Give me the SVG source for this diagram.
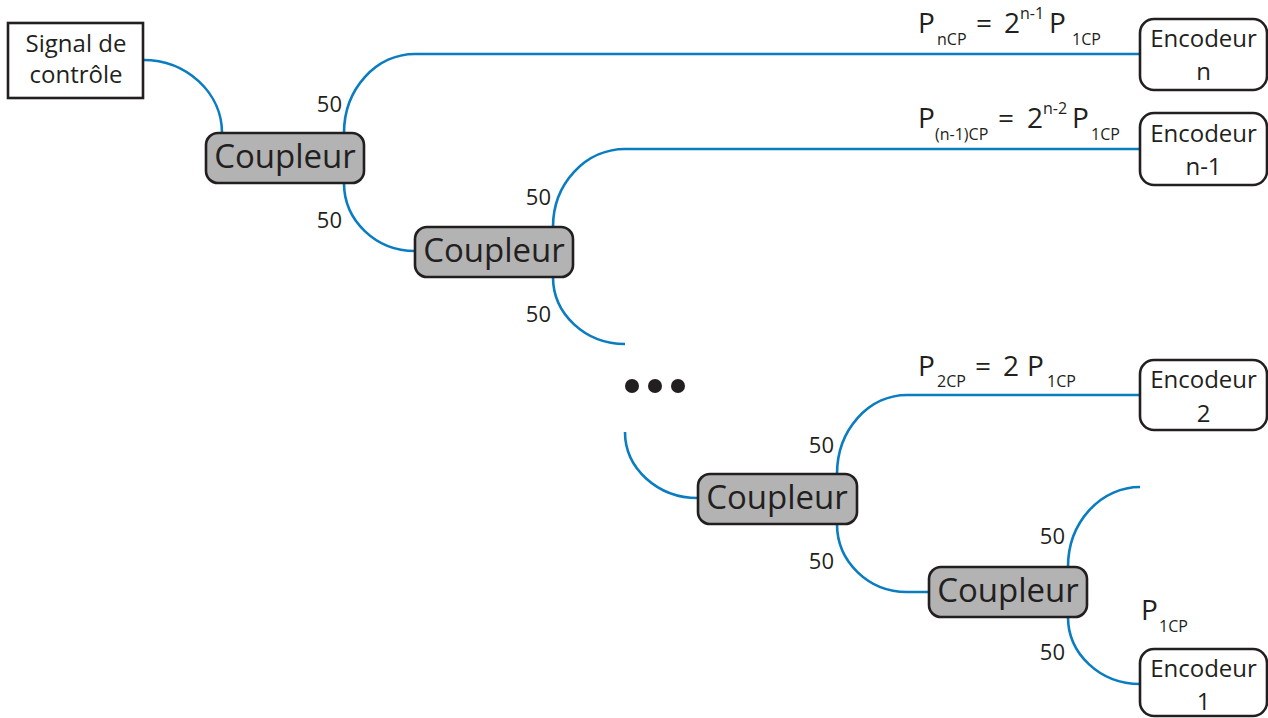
<svg xmlns="http://www.w3.org/2000/svg" width="1268" height="718" viewBox="0 0 1268 718">
<style>
text{font-family:"Open Sans","Liberation Sans",sans-serif;fill:#231f20}
.wire{fill:none;stroke:#0a7cc2;stroke-width:2.6}
.cp rect{fill:#b3b3b3;stroke:#231f20;stroke-width:2.6}
.cp text{font-size:33px;text-anchor:middle}
.enc rect{fill:#fff;stroke:#231f20;stroke-width:2.6}
.enc text{font-size:24px;text-anchor:middle}
.lbl{font-size:22px;text-anchor:end}
.P{font-size:28px}
.sub{font-size:16px}
</style>
<rect width="1268" height="718" fill="#fff"/>
<g id="connectors">
<path class="wire" d="M143,60 A79,73 0 0 1 222,133"/>
<path class="wire" d="M344,133 A71,79 0 0 1 415,54 L1140,54"/>
<path class="wire" d="M344,183 A71,68 0 0 0 415,251"/>
<path class="wire" d="M553,227 A72,78 0 0 1 625,149 L1140,149"/>
<path class="wire" d="M553,277 A72,67 0 0 0 625,344"/>
<path class="wire" d="M625,432 A73,66 0 0 0 698,498"/>
<path class="wire" d="M837,474 A70,79 0 0 1 907,395 L1140,395"/>
<path class="wire" d="M837,524 A70,68 0 0 0 907,592 L929,592"/>
<path class="wire" d="M1068,567 A72,80 0 0 1 1140,487"/>
<path class="wire" d="M1068,617 A72,67 0 0 0 1140,684"/>
</g>
<g id="signal">
<rect x="8" y="23" width="135" height="75" fill="#fff" stroke="#231f20" stroke-width="2.6"/>
<text x="76" y="52" font-size="24" text-anchor="middle">Signal de</text>
<text x="76" y="83" font-size="24" text-anchor="middle">contrôle</text>
</g>
<g id="coupleur1" class="cp"><rect x="206" y="133" width="158" height="50" rx="12"/><text x="285" y="168">Coupleur</text></g>
<g id="coupleur2" class="cp"><rect x="415" y="227" width="158" height="50" rx="12"/><text x="494" y="262">Coupleur</text></g>
<g id="coupleur3" class="cp"><rect x="698" y="474" width="159" height="50" rx="12"/><text x="777" y="509">Coupleur</text></g>
<g id="coupleur4" class="cp"><rect x="929" y="567" width="158" height="50" rx="12"/><text x="1008" y="602">Coupleur</text></g>
<g id="encodeur-n" class="enc"><rect x="1140" y="19" width="127" height="71" rx="14"/><text x="1203.5" y="47">Encodeur</text><text x="1203.5" y="80">n</text></g>
<g id="encodeur-n1" class="enc"><rect x="1140" y="113" width="127" height="72" rx="14"/><text x="1203.5" y="142">Encodeur</text><text x="1203.5" y="175">n-1</text></g>
<g id="encodeur-2" class="enc"><rect x="1140" y="360" width="127" height="70" rx="14"/><text x="1203.5" y="388">Encodeur</text><text x="1203.5" y="422">2</text></g>
<g id="encodeur-1" class="enc"><rect x="1140" y="649" width="127" height="67" rx="14"/><text x="1203.5" y="677">Encodeur</text><text x="1203.5" y="710">1</text></g>
<g id="dots" fill="#231f20">
<circle cx="632" cy="386" r="7"/><circle cx="655" cy="386" r="7"/><circle cx="678" cy="386" r="7"/>
</g>
<g id="labels">
<text class="lbl" x="342" y="112">50</text>
<text class="lbl" x="342" y="228">50</text>
<text class="lbl" x="551" y="205">50</text>
<text class="lbl" x="551" y="322">50</text>
<text class="lbl" x="834" y="453">50</text>
<text class="lbl" x="834" y="569">50</text>
<text class="lbl" x="1065" y="544">50</text>
<text class="lbl" x="1065" y="660">50</text>
</g>
<g id="formulas">
<text class="P" x="918" y="33">P</text><text class="sub" x="937" y="45">nCP</text><text class="P" x="976" y="33">=</text><text class="P" x="1004" y="33">2</text><text class="sub" x="1020" y="19">n-1</text><text class="P" x="1049" y="33">P</text><text class="sub" x="1072" y="45">1CP</text>
<text class="P" x="918" y="128">P</text><text class="sub" x="935" y="140">(n-1)CP</text><text class="P" x="998" y="128">=</text><text class="P" x="1027" y="128">2</text><text class="sub" x="1043" y="114">n-2</text><text class="P" x="1072" y="128">P</text><text class="sub" x="1091" y="140">1CP</text>
<text class="P" x="918" y="376">P</text><text class="sub" x="937" y="387">2CP</text><text class="P" x="975" y="376">=</text><text class="P" x="1003" y="376">2</text><text class="P" x="1027" y="376">P</text><text class="sub" x="1047" y="387">1CP</text>
<text class="P" x="1141" y="620">P</text><text class="sub" x="1159" y="632">1CP</text>
</g>
</svg>
